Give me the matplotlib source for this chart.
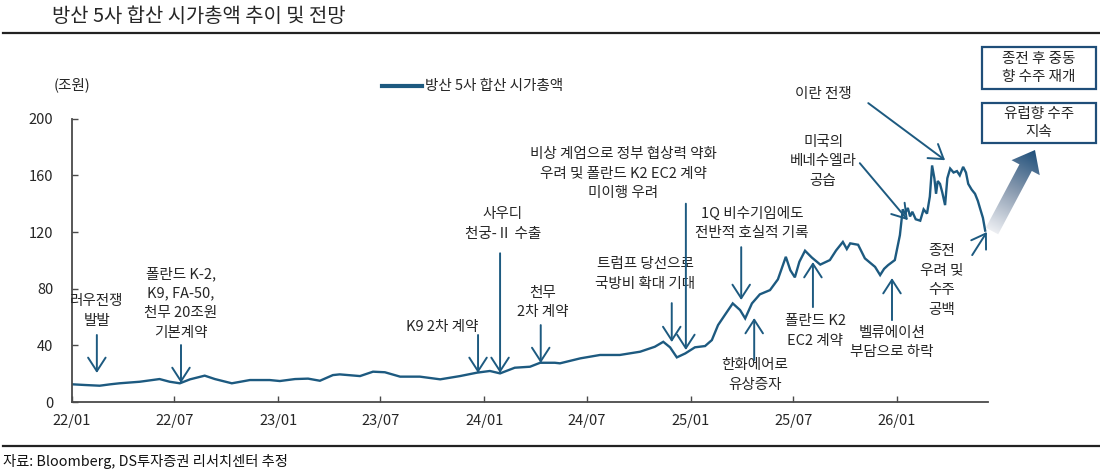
import matplotlib
matplotlib.use('Agg')
import matplotlib.pyplot as plt
import numpy as np
import pandas as pd
from matplotlib.patches import Polygon, Rectangle
from matplotlib.colors import LinearSegmentedColormap

plt.rcParams['font.family'] = ['Noto Sans CJK KR', 'DejaVu Sans']

# ---------------- data ----------------
dates = ['2022-01-01', '2022-01-24', '2022-02-19', '2022-03-10', '2022-03-26', '2022-05-01',
         '2022-06-05', '2022-06-23', '2022-07-11', '2022-07-29', '2022-08-24', '2022-09-11',
         '2022-10-11', '2022-11-12', '2022-12-17', '2023-01-04', '2023-01-31', '2023-02-23',
         '2023-03-16', '2023-04-08', '2023-04-20', '2023-05-26', '2023-06-18', '2023-07-09',
         '2023-08-05', '2023-09-09', '2023-10-15', '2023-11-19', '2023-12-19', '2024-01-11',
         '2024-01-29', '2024-02-24', '2024-03-22', '2024-04-09', '2024-05-05', '2024-05-14',
         '2024-06-19', '2024-07-24', '2024-08-28', '2024-10-03', '2024-10-29', '2024-11-13',
         '2024-11-25', '2024-12-07', '2024-12-22', '2025-01-08', '2025-01-26', '2025-02-07',
         '2025-02-18', '2025-03-02', '2025-03-16', '2025-03-29', '2025-04-07', '2025-04-19',
         '2025-05-03', '2025-05-21', '2025-06-04', '2025-06-18', '2025-06-26', '2025-07-04',
         '2025-07-12', '2025-07-22', '2025-08-03', '2025-08-18', '2025-09-04', '2025-09-15',
         '2025-09-27', '2025-10-04', '2025-10-10', '2025-10-24', '2025-11-05', '2025-11-23',
         '2025-12-02', '2025-12-09', '2025-12-16', '2025-12-28', '2026-01-06', '2026-01-11',
         '2026-01-15', '2026-01-20', '2026-01-24', '2026-01-28', '2026-02-03', '2026-02-11',
         '2026-02-17', '2026-02-23', '2026-02-28', '2026-03-04', '2026-03-08', '2026-03-11',
         '2026-03-14', '2026-03-18', '2026-03-22', '2026-03-27', '2026-03-31', '2026-04-05',
         '2026-04-11', '2026-04-17', '2026-04-22', '2026-04-28', '2026-05-03', '2026-05-07',
         '2026-05-13', '2026-05-19', '2026-05-24', '2026-05-28', '2026-06-02', '2026-06-06']
values = [12.5, 12.0, 11.5, 12.5, 13.2, 14.3,
          16.2, 14.3, 13.2, 16.0, 18.6, 16.2,
          13.2, 15.5, 15.5, 14.8, 16.2, 16.5,
          15.0, 19.0, 19.5, 18.3, 21.4, 21.0,
          17.9, 17.9, 16.0, 18.3, 20.7, 21.9,
          20.2, 24.2, 24.9, 27.7, 27.7, 27.3,
          30.8, 33.2, 33.2, 35.5, 39.0, 42.5,
          38.6, 31.5, 34.3, 38.6, 39.5, 43.7,
          54.3, 61.4, 69.6, 64.9, 59.0, 69.6,
          76.0, 79.0, 86.6, 102.5, 93.0, 88.0,
          99.0, 106.8, 102.0, 97.0, 100.2, 107.0,
          113.0, 108.0, 112.0, 111.0, 101.4, 95.4,
          89.6, 94.0, 96.6, 100.2, 117.8, 136.0,
          133.0, 137.0, 131.0, 134.3, 129.0, 128.0,
          136.0, 133.0, 145.0, 167.0, 158.0, 147.0,
          156.0, 154.0, 148.0, 139.0, 158.0, 164.8,
          162.0, 163.0, 160.0, 166.0, 162.0, 154.0,
          150.0, 147.0, 142.0, 136.6, 130.0, 121.0]

series_name = '방산 5사 합산 시가총액'
xtick_dates = ['2022-01-01', '2022-07-01', '2023-01-01', '2023-07-01', '2024-01-01',
               '2024-07-01', '2025-01-01', '2025-07-01', '2026-01-01']
xtick_labels = ['22/01', '22/07', '23/01', '23/07', '24/01', '24/07', '25/01', '25/07', '26/01']
yticks = [0, 40, 80, 120, 160, 200]

# annotations: text, text position (date, value), arrow start (date, value), arrow tip (date, value)
ann_texts = ['러우전쟁\n발발',
             '폴란드 K-2,\nK9, FA-50,\n천무 20조원\n기본계약',
             'K9 2차 계약',
             '사우디\n천궁-Ⅱ 수출',
             '천무\n2차 계약',
             '트럼프 당선으로\n국방비 확대 기대',
             '비상 계엄으로 정부 협상력 약화\n우려 및 폴란드 K2 EC2 계약\n미이행 우려',
             '1Q 비수기임에도\n전반적 호실적 기록',
             '한화에어로\n유상증자',
             '폴란드 K2\nEC2 계약',
             '벨류에이션\n부담으로 하락',
             '미국의\n베네수엘라\n공습',
             '이란 전쟁',
             '종전\n우려 및\n수주\n공백']
ann_text_pos = [('2022-02-14', 64.2), ('2022-07-13', 69.8), ('2023-10-18', 52.9),
                ('2024-02-03', 125.6), ('2024-04-14', 70.2), ('2024-10-12', 90.3),
                ('2024-09-03', 161.2), ('2025-04-19', 125.9), ('2025-04-24', 19.0),
                ('2025-08-09', 50.1), ('2025-12-23', 42.0), ('2025-08-23', 170.0),
                ('2025-08-23', 217.3), ('2026-03-21', 85.7)]
ann_start = [('2022-02-14', 47.3), ('2022-07-13', 40.2), ('2023-12-21', 47.3),
             ('2024-01-29', 105.0), ('2024-04-10', 54.3), ('2024-11-28', 69.8),
             ('2024-12-23', 140.0), ('2025-03-31', 109.3), ('2025-04-23', 29.6),
             ('2025-08-05', 67.0), ('2025-12-23', 57.8), ('2025-10-27', 168.6),
             ('2025-11-11', 211.0), ('2026-05-14', 103.7)]
ann_tip = [('2022-02-14', 20.5), ('2022-07-13', 13.4), ('2023-12-21', 20.5),
           ('2024-01-29', 20.5), ('2024-04-10', 27.5), ('2024-11-28', 42.3),
           ('2024-12-23', 36.7), ('2025-03-31', 72.0), ('2025-04-23', 59.3),
           ('2025-08-05', 98.8), ('2025-12-23', 87.5), ('2026-01-20', 128.4),
           ('2026-03-27', 170.7), ('2026-06-09', 120.0)]

outlook_texts = ['종전 후 중동\n향 수주 재개', '유럽향 수주\n지속']

title = '방산 5사 합산 시가총액 추이 및 전망'
unit_label = '(조원)'
source = '자료: Bloomberg, DS투자증권 리서치센터 추정'

# ---------------- styling ----------------
W, H = 1100, 473
LINE_C = '#1d5a80'
TEXT_C = '#262626'
BOX_C = '#1f4e79'
FS = 10.5

fig = plt.figure(figsize=(W / 100, H / 100), dpi=100)
ax = fig.add_axes([72 / W, 1 - 402 / H, (988 - 72) / W, (402 - 118.7) / H])

x = pd.to_datetime(dates)
ax.plot(x, values, color=LINE_C, lw=1.7, solid_joinstyle='miter')

ax.set_ylim(0, 200)
ax.set_xlim(pd.Timestamp('2022-01-01'), pd.Timestamp('2026-06-11'))
ax.set_yticks(yticks)
ax.set_xticks(pd.to_datetime(xtick_dates))
ax.set_xticklabels(xtick_labels)
for s in ['top', 'right']:
    ax.spines[s].set_visible(False)
for s in ['left', 'bottom']:
    ax.spines[s].set_color('#4a4a4a')
    ax.spines[s].set_linewidth(1.3)
ax.tick_params(axis='both', direction='in', length=4, width=1.0, color='#4a4a4a',
               labelsize=FS, labelcolor=TEXT_C)
ax.tick_params(axis='y', pad=13.5)
ax.tick_params(axis='x', pad=9)

for txt, tp, st, tip in zip(ann_texts, ann_text_pos, ann_start, ann_tip):
    ax.annotate('', xy=(pd.Timestamp(tip[0]), tip[1]), xytext=(pd.Timestamp(st[0]), st[1]),
                xycoords='data', annotation_clip=False,
                arrowprops=dict(arrowstyle='->,head_length=0.65,head_width=0.42',
                                color=LINE_C, lw=1.4, mutation_scale=15,
                                shrinkA=0, shrinkB=0))
    ax.text(pd.Timestamp(tp[0]), tp[1], txt, ha='center', va='center', fontsize=FS,
            color=TEXT_C, linespacing=1.5, clip_on=False)

# ---------------- overlay (pixel coordinates) ----------------
ov = fig.add_axes([0, 0, 1, 1])
ov.set_xlim(0, W)
ov.set_ylim(H, 0)
ov.axis('off')

ov.text(52, 17, title, fontsize=14.3, color=TEXT_C, ha='left', va='center')
ov.plot([3, W], [33, 33], color='#222222', lw=1.6)
ov.plot([3, W], [446, 446], color='#222222', lw=1.6)
ov.text(3, 461, source, fontsize=10.3, color='#111111', ha='left', va='center')
ov.text(72, 85, unit_label, fontsize=FS, color=TEXT_C, ha='center', va='center')

# legend
ov.plot([382, 422], [86, 86], color=LINE_C, lw=3)
ov.text(425, 86, series_name, fontsize=FS, color=TEXT_C, ha='left', va='center')

# outlook boxes
for (y0, y1), t in zip([(47, 89), (103, 143)], outlook_texts):
    ov.add_patch(Rectangle((982, y0), 114, y1 - y0, facecolor='white', edgecolor=BOX_C, lw=1.6))
    ov.text(1039, (y0 + y1) / 2, t, fontsize=FS, color=TEXT_C, ha='center', va='center',
            linespacing=1.35)

# gradient arrow
tail = np.array([992.0, 231.0])
tipp = np.array([1035.0, 150.0])
u = (tipp - tail) / np.linalg.norm(tipp - tail)
n = np.array([-u[1], u[0]])
sw, hw, hl = 7.0, 16.0, 20.0
base = tipp - u * hl
poly = np.array([tail + n * sw, base + n * sw, base + n * hw, tipp,
                 base - n * hw, base - n * sw, tail - n * sw])
patch = Polygon(poly, closed=True, facecolor='none', edgecolor='none')
ov.add_patch(patch)
xs = np.linspace(975, 1055, 160)
ys = np.linspace(140, 245, 210)
XX, YY = np.meshgrid(xs, ys)
T = ((XX - tail[0]) * u[0] + (YY - tail[1]) * u[1]) / np.linalg.norm(tipp - tail)
T = np.clip(T, 0, 1)
cmap = LinearSegmentedColormap.from_list('g', ['#eceef2', '#8a9bb0', '#1f4f7a'])
im = ov.imshow(T, extent=(975, 1055, 245, 140), origin='upper', cmap=cmap,
               vmin=0, vmax=1, interpolation='bilinear', aspect='auto')
im.set_clip_path(patch)
ov.set_xlim(0, W)
ov.set_ylim(H, 0)

fig.savefig('out.png', dpi=100)
